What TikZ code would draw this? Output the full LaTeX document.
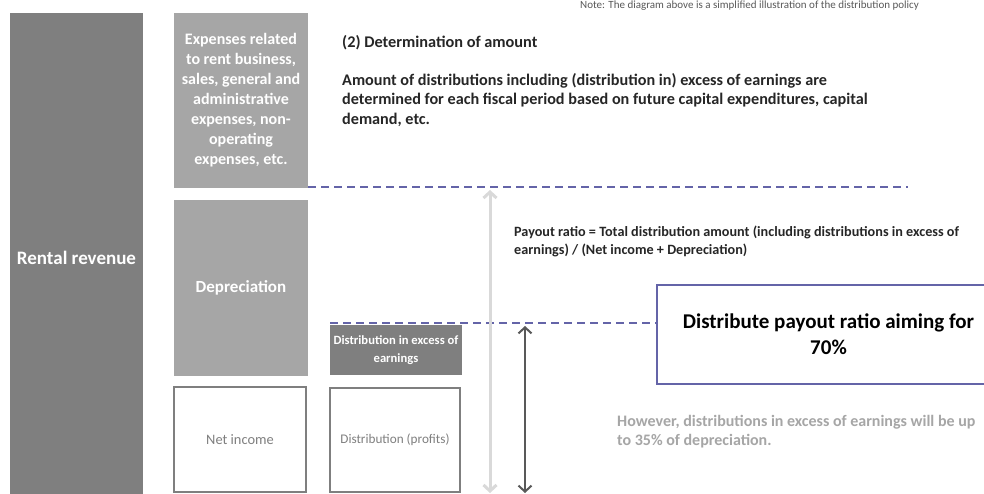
\documentclass[tikz,border=0pt]{standalone}
\usepackage{fontspec}
\setmainfont{Carlito}
\usetikzlibrary{arrows.meta}
\definecolor{revgray}{HTML}{7F7F7F}
\definecolor{expgray}{HTML}{A6A6A6}
\definecolor{linegray}{HTML}{D9D9D9}
\definecolor{arrowgray}{HTML}{595959}
\definecolor{textgray}{HTML}{262626}
\definecolor{levelblue}{HTML}{6464A8}
\begin{document}
\begin{tikzpicture}[x=1pt,y=-1pt,
    block/.style={anchor=north west,inner sep=0pt,outer sep=0pt,align=center,text=white,font=\bfseries},
    darkblock/.style={block,fill=revgray},
    lightblock/.style={block,fill=expgray},
    openblock/.style={block,fill=white,draw=revgray,line width=2pt,text=revgray,font=\normalfont},
    note/.style={anchor=north west,inner sep=0pt,align=left,text=textgray},
    level/.style={levelblue,line width=2.2pt,dash pattern=on 8pt off 5pt},
    span/.style={{Straight Barb[length=6pt,width=13pt]}-{Straight Barb[length=6pt,width=13pt]}}
  ]
  \clip (0,0) rectangle (984,494);
  \fill[white] (0,0) rectangle (984,494);
  % left column
  \node[darkblock,minimum width=133,minimum height=490,font=\bfseries\fontsize{19}{22}\selectfont]
    (rev) at (10,13) {Rental revenue};
  % middle column
  \node[lightblock,minimum width=134,minimum height=175,font=\bfseries\fontsize{16}{20}\selectfont]
    (exp) at (174,13) {Expenses related\\to rent business,\\sales, general and\\administrative\\expenses, non-\\operating\\expenses, etc.};
  \node[lightblock,minimum width=134,minimum height=176,font=\bfseries\fontsize{17}{20}\selectfont]
    (dep) at (174,200) {Depreciation};
  \node[openblock,minimum width=132,minimum height=105,font=\fontsize{14.4}{17}\selectfont]
    (net) at (174,387) {\raisebox{-4pt}{Net income}};
  % distributions
  \node[darkblock,minimum width=132,minimum height=50,font=\bfseries\fontsize{12.6}{18}\selectfont]
    (excess) at (330,325) {Distribution in excess of\\earnings};
  \node[openblock,minimum width=130,minimum height=104,font=\fontsize{13.2}{15}\selectfont]
    (profit) at (330,388) {Distribution (profits)};
  % target
  \node[block,draw=levelblue,line width=2pt,fill=white,text=black,minimum width=343,minimum height=99,font=\bfseries\fontsize{21}{26}\selectfont]
    (target) at (657,285) {Distribute payout ratio aiming for\\70\%};
  % levels
  \coordinate (top1) at (308,187);
  \coordinate (top2) at (908,187);
  \coordinate (mid1) at (330,323);
  \draw[level] (top1) -- (top2);
  \draw[level] (mid1) -- (target.west |- mid1);
  % spans
  \coordinate (a1) at (490,190);
  \coordinate (a2) at (490,493);
  \coordinate (b1) at (525,326);
  \coordinate (b2) at (525,493);
  \draw[span,linegray,line width=3pt] (a1) -- (a2);
  \draw[span,arrowgray,line width=2pt] (b1) -- (b2);
  % texts
  \node[note,text=arrowgray,font=\fontsize{11}{12}\selectfont] (remark) at (580,1)
    {Note: The diagram above is a simplified illustration of the distribution policy};
  \node[note,font=\bfseries\fontsize{16.3}{18}\selectfont] (title) at (342,35)
    {(2) Determination of amount};
  \node[note,font=\bfseries\fontsize{16.2}{19.5}\selectfont] (policy) at (342,73)
    {Amount of distributions including (distribution in) excess of earnings are\\determined for each fiscal period based on future capital expenditures, capital\\demand, etc.};
  \node[note,font=\bfseries\fontsize{14.2}{18}\selectfont] (ratio) at (514,226)
    {Payout ratio = Total distribution amount (including distributions in excess of\\earnings) / (Net income + Depreciation)};
  \node[note,text=expgray,font=\bfseries\fontsize{16}{19}\selectfont] (limit) at (617,415)
    {However, distributions in excess of earnings will be up\\to 35\% of depreciation.};
\end{tikzpicture}
\end{document}
